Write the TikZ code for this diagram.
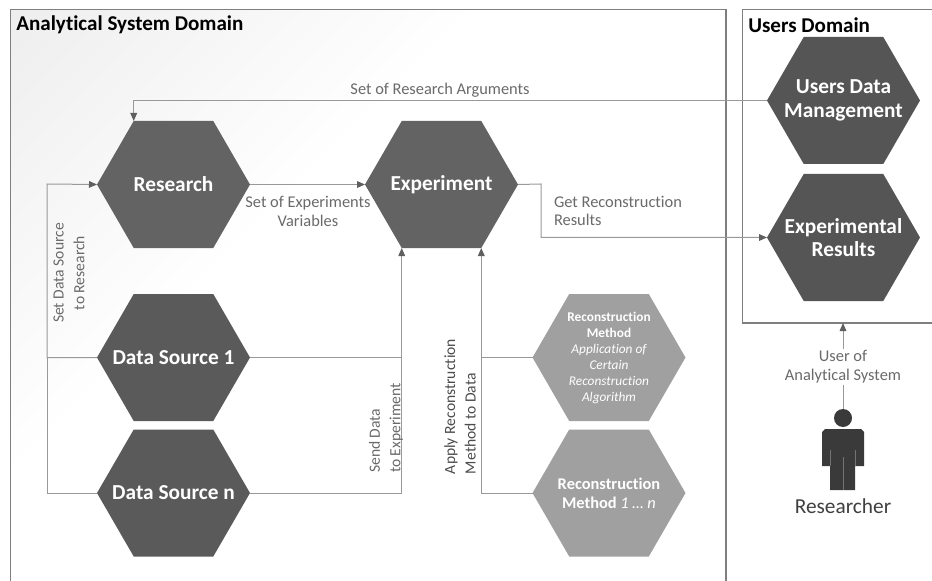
\documentclass[tikz,border=0pt]{standalone}
\usepackage{fontspec}
\setmainfont{Carlito}[Ligatures=NoCommon]
\usetikzlibrary{arrows.meta,calc}
\makeatletter
\pgfdeclareshape{hexa}{
  \inheritsavedanchors[from=rectangle]
  \inheritanchorborder[from=rectangle]
  \inheritanchor[from=rectangle]{center}
  \inheritanchor[from=rectangle]{north}
  \inheritanchor[from=rectangle]{south}
  \inheritanchor[from=rectangle]{west}
  \inheritanchor[from=rectangle]{east}
  \anchor{tl}{\southwest \pgf@xa=\pgf@x \northeast \pgf@ya=\pgf@y
    \advance\pgf@x by-\pgf@xa \pgf@x=0.24\pgf@x \advance\pgf@x by\pgf@xa \pgf@y=\pgf@ya}
  \anchor{bl}{\southwest \pgf@xa=\pgf@x \pgf@ya=\pgf@y \northeast
    \advance\pgf@x by-\pgf@xa \pgf@x=0.24\pgf@x \advance\pgf@x by\pgf@xa \pgf@y=\pgf@ya}
  \anchor{br}{\southwest \pgf@xa=\pgf@x \pgf@ya=\pgf@y \northeast \pgf@xb=\pgf@x
    \advance\pgf@x by-\pgf@xa \pgf@x=0.24\pgf@x \pgf@xc=\pgf@xb \advance\pgf@xc by-\pgf@x \pgf@x=\pgf@xc \pgf@y=\pgf@ya}
  \backgroundpath{
    \southwest \edef\hxa{\the\pgf@x}\edef\hya{\the\pgf@y}\pgf@xa=\pgf@x \pgf@ya=\pgf@y
    \northeast \edef\hxb{\the\pgf@x}\edef\hyb{\the\pgf@y}\pgf@xb=\pgf@x \pgf@yb=\pgf@y
    \pgf@xc=\pgf@xb \advance\pgf@xc by-\pgf@xa \pgf@xc=0.24\pgf@xc
    \pgf@x=\pgf@xa \advance\pgf@x by\pgf@xc \edef\hxl{\the\pgf@x}
    \pgf@x=\pgf@xb \advance\pgf@x by-\pgf@xc \edef\hxr{\the\pgf@x}
    \pgf@y=\pgf@ya \advance\pgf@y by\pgf@yb \pgf@y=0.5\pgf@y \edef\hym{\the\pgf@y}
    \pgfpathmoveto{\pgfqpoint{\hxa}{\hym}}
    \pgfpathlineto{\pgfqpoint{\hxl}{\hyb}}
    \pgfpathlineto{\pgfqpoint{\hxr}{\hyb}}
    \pgfpathlineto{\pgfqpoint{\hxb}{\hym}}
    \pgfpathlineto{\pgfqpoint{\hxr}{\hya}}
    \pgfpathlineto{\pgfqpoint{\hxl}{\hya}}
    \pgfpathclose
  }
}
\makeatother
\definecolor{hexA}{HTML}{636363}
\definecolor{hexB}{HTML}{5A5A5A}
\definecolor{hexC}{HTML}{555555}
\definecolor{hexD}{HTML}{A0A0A0}
\definecolor{frameC}{HTML}{7F7F7F}
\definecolor{wireC}{HTML}{999999}
\definecolor{tipC}{HTML}{5F5F5F}
\definecolor{labelC}{HTML}{6A6A6A}
\definecolor{personC}{HTML}{3A3A3A}
\definecolor{fadeC}{HTML}{EEEEEE}
\pgfdeclarehorizontalshading{cornerfade}{100bp}{color(0bp)=(fadeC); color(14.6bp)=(fadeC); color(33bp)=(white); color(100bp)=(white)}
\tikzset{
  hexbox/.style={shape=hexa,draw=none,inner sep=0pt,outer sep=0pt,
    minimum width=114.75pt,minimum height=95.25pt,align=center,text=white,
    font=\fontsize{16}{17.6}\selectfont\bfseries},
  frame/.style={draw=frameC,line width=0.9pt},
  wire/.style={draw=wireC,line width=0.75pt},
  arrowed/.style={wire,-{Triangle[length=6pt,width=5pt,color=tipC]}},
  lab/.style={inner sep=0pt,outer sep=0pt,text=labelC,align=center,
    font=\fontsize{12.3}{14}\selectfont},
  rlab/.style={lab,rotate=90,font=\fontsize{11.7}{15.5}\selectfont},
  heading/.style={inner sep=0pt,anchor=west,text=black,font=\fontsize{15.8}{17}\selectfont\bfseries},
}
\begin{document}
\begin{tikzpicture}[x=0.75pt,y=-0.75pt]
\useasboundingbox (0,0) rectangle (932,581);
\fill[white] (0,0) rectangle (932,581);
% faint gradient of the domain box
\begin{scope}
  \clip (10.5,9.5) rectangle (726,581);
  \shade[shading=cornerfade,shading angle=-45] (10,10) rectangle (910,910);
\end{scope}
% domain frames
\draw[frame] (10.5,581) -- (10.5,9.5) -- (726,9.5) -- (726,581);
\draw[frame] (932,9.5) -- (742.5,9.5) -- (742.5,323) -- (932,323);
\coordinate (userbox) at (843,323);
\node[heading] (asd) at (16,25) {Analytical System Domain};
\node[heading] (ud) at (748,25) {Users Domain};

% hexagons
\node[hexbox,fill=hexA] (res) at (173.5,184.5) {Research};
\node[hexbox,fill=hexA] (exp) at (441.5,184.5) {Experiment};
\node[hexbox,fill=hexB] (ds1) at (173.5,357.5) {Data Source 1};
\node[hexbox,fill=hexB] (dsn) at (173.5,493) {Data Source n};
\node[hexbox,fill=hexD,font=\fontsize{10}{12}\selectfont] (rm1) at (609,357.5)
  {\bfseries Reconstruction\\\bfseries Method\\\itshape Application of\\\itshape Certain\\\itshape Reconstruction\\\itshape Algorithm};
\node[hexbox,fill=hexD,font=\fontsize{12.3}{14.5}\selectfont] (rmn) at (609,493)
  {\bfseries Reconstruction\\\bfseries Method \mdseries\itshape 1 … n};
\node[hexbox,fill=hexC] (udm) at (843.5,100.5) {Users Data\\Management};
\node[hexbox,fill=hexC] (ers) at (843.5,237.5) {Experimental\\Results};

% connector bends
\coordinate (leftbus) at (47,184);
\coordinate (getbend) at (541,184);

% connectors
\draw[arrowed] (udm.west) -| (res.tl);
\draw[arrowed] (res.east) -- (exp.west);
\draw[arrowed] (ds1.west) -| (leftbus) -- (res.west);
\draw[wire] (dsn.west) -| (leftbus |- ds1.west);
\draw[arrowed] (ds1.east) -| (exp.bl);
\draw[wire] (dsn.east) -| (exp.bl |- ds1.east);
\draw[arrowed] (rm1.west) -| (exp.br);
\draw[wire] (rmn.west) -| (exp.br |- rm1.west);
\draw[arrowed] (exp.east) -- (getbend) |- (ers.west);

% researcher
\node[circle,fill=personC,inner sep=0pt,outer sep=0pt,minimum size=13.5pt] (head) at (843,418) {};
\fill[personC] (825,429) -- (861,429) -- (864,432) -- (864,466) -- (855,466) -- (855,490)
   -- (830,490) -- (830,466) -- (822,466) -- (822,432) -- cycle;
\draw[black!55,line width=0.4pt] (830,450) -- (830,466) (855,450) -- (855,466) (843,457) -- (843,490);
\draw[arrowed] (head.north) -- (userbox);

% labels
\node[lab] (l1) at (440,90) {Set of Research Arguments};
\node[lab] (l2) at (308,211.5) {Set of Experiments\\Variables};
\node[lab,align=left,anchor=west] (l3) at (554,211) {Get Reconstruction\\Results};
\node[lab,fill=white,inner ysep=1pt] (l4) at (843,367) {User of\\Analytical System};
\node[rlab] (l5) at (69,273) {Set Data Source\\to Research};
\node[rlab,align=left] (l6) at (386,428) {Send Data\\to Experiment};
\node[rlab,align=left,text=black!70] (l7) at (460,406.5) {Apply Reconstruction\\Method to Data};
\node[inner sep=0pt,text=black!75,font=\fontsize{16}{18}\selectfont] (who) at (843,506) {Researcher};
\end{tikzpicture}
\end{document}
